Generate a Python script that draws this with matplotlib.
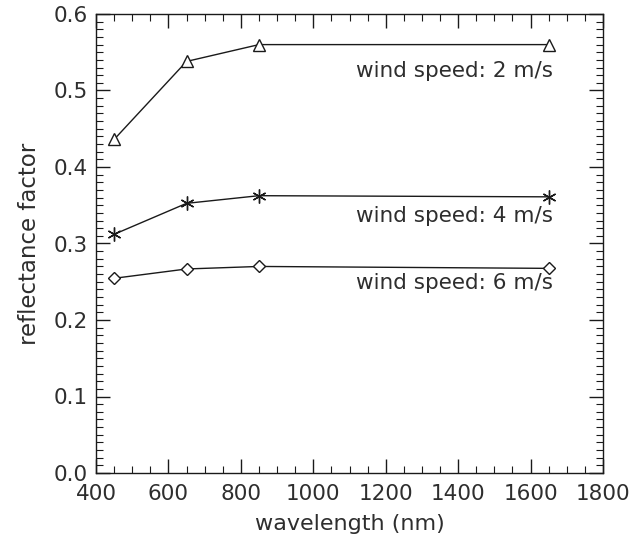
import matplotlib
matplotlib.use("Agg")
import matplotlib.pyplot as plt
from matplotlib.ticker import MultipleLocator, FormatStrFormatter

wavelength = [450, 650, 850, 1650]
refl_2ms = [0.436, 0.538, 0.560, 0.560]
refl_4ms = [0.312, 0.3525, 0.3625, 0.361]
refl_6ms = [0.2545, 0.2667, 0.270, 0.2675]
labels = ["wind speed: 2 m/s", "wind speed: 4 m/s", "wind speed: 6 m/s"]
label_y = [0.518, 0.328, 0.240]
label_x = 1662

plt.rcParams['font.family'] = ['DejaVu Sans']
fig = plt.figure(figsize=(6.34, 5.48), dpi=100)
ax = fig.add_axes([96/634, 1-473/548, (603-96)/634, (473-14)/548])

col = '#1a1a1a'
tcol = '#2e2e2e'
ax.plot(wavelength, refl_2ms, color=col, lw=1.0, marker='^', ms=9,
        mfc='white', mec=col, mew=1.0)
ax.plot(wavelength, refl_4ms, color=col, lw=1.0, marker=(6, 2, 0), ms=10,
        mec=col, mew=1.0)
ax.plot(wavelength, refl_6ms, color=col, lw=1.0, marker='D', ms=6,
        mfc='white', mec=col, mew=1.0)

for t, y in zip(labels, label_y):
    ax.text(label_x, y, t, ha='right', va='baseline', fontsize=15.5, color=tcol)

ax.set_xlim(400, 1800)
ax.set_ylim(0.0, 0.6)
ax.xaxis.set_major_locator(MultipleLocator(200))
ax.xaxis.set_minor_locator(MultipleLocator(50))
ax.yaxis.set_major_locator(MultipleLocator(0.1))
ax.yaxis.set_minor_locator(MultipleLocator(0.01))
ax.yaxis.set_major_formatter(FormatStrFormatter('%.1f'))

ax.tick_params(which='both', direction='in', top=True, right=True,
               colors=col, labelcolor=tcol, labelsize=15.5)
ax.tick_params(which='major', length=10, width=1.0)
ax.tick_params(which='minor', length=5, width=0.8)
ax.tick_params(axis='x', which='major', pad=8)
ax.tick_params(axis='y', which='major', pad=6)
for s in ax.spines.values():
    s.set_linewidth(1.0)
    s.set_color(col)

ax.set_xlabel('wavelength (nm)', fontsize=16, color=tcol, labelpad=7)
ax.set_ylabel('reflectance factor', fontsize=16.5, color=tcol, labelpad=9)

fig.savefig('out.png', dpi=100)
